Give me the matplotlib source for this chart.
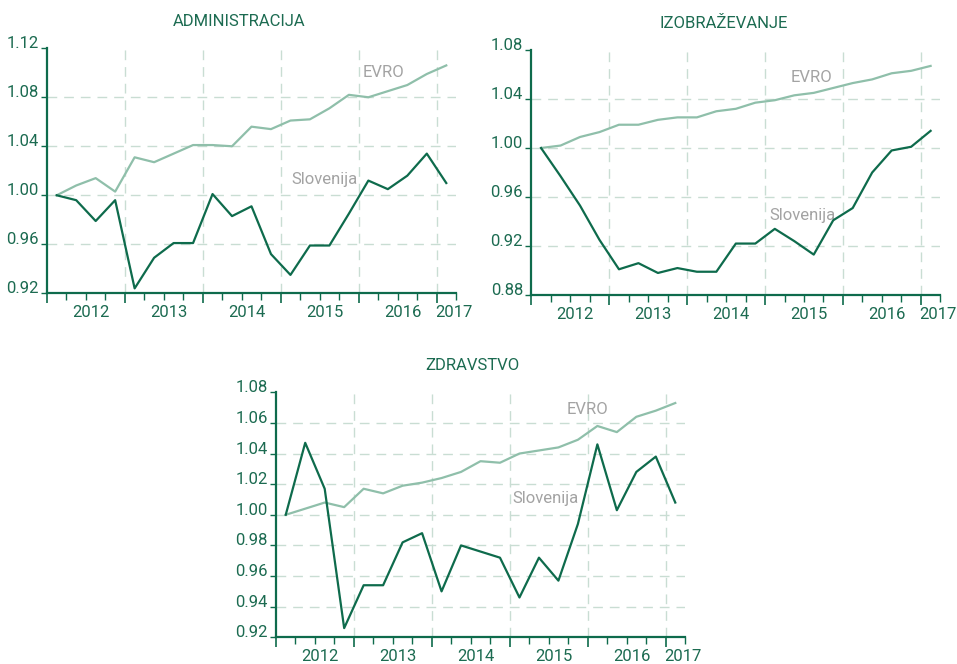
import matplotlib
matplotlib.use("Agg")
import matplotlib.pyplot as plt
import matplotlib.transforms as mtransforms
import numpy as np

plt.rcParams["font.family"] = ["Liberation Sans Narrow", "Roboto", "DejaVu Sans"]

# quarterly index, 2012Q1 .. 2017Q1
quarters = [f"{y}Q{q}" for y in range(2012, 2017) for q in range(1, 5)] + ["2017Q1"]
years = ["2012", "2013", "2014", "2015", "2016", "2017"]

adm_slo = [1.000, 0.996, 0.979, 0.996, 0.924, 0.949, 0.961, 0.961, 1.001, 0.983, 0.991,
           0.952, 0.935, 0.959, 0.959, 0.985, 1.012, 1.005, 1.016, 1.034, 1.010]
adm_evro = [1.000, 1.008, 1.014, 1.003, 1.031, 1.027, 1.034, 1.041, 1.041, 1.040, 1.056,
            1.054, 1.061, 1.062, 1.071, 1.082, 1.080, 1.085, 1.090, 1.099, 1.106]

izo_slo = [1.000, 0.977, 0.953, 0.925, 0.901, 0.906, 0.898, 0.902, 0.899, 0.899, 0.922,
           0.922, 0.934, 0.924, 0.913, 0.941, 0.951, 0.980, 0.998, 1.001, 1.014]
izo_evro = [1.000, 1.002, 1.009, 1.013, 1.019, 1.019, 1.023, 1.025, 1.025, 1.030, 1.032,
            1.037, 1.039, 1.043, 1.045, 1.049, 1.053, 1.056, 1.061, 1.063, 1.067]

zdr_slo = [1.000, 1.047, 1.017, 0.926, 0.954, 0.954, 0.982, 0.988, 0.950, 0.980, 0.976,
           0.972, 0.946, 0.972, 0.957, 0.994, 1.046, 1.003, 1.028, 1.038, 1.008]
zdr_evro = [1.000, 1.004, 1.008, 1.005, 1.017, 1.014, 1.019, 1.021, 1.024, 1.028, 1.035,
            1.034, 1.040, 1.042, 1.044, 1.049, 1.058, 1.054, 1.064, 1.068, 1.073]

DARK = "#0e6b4c"
LIGHT = "#8fbfaa"
GRID = "#c9ddd3"
GRAY = "#a3a3a3"
TXT = "#1c6b51"

panels = [
    dict(title="ADMINISTRACIJA", slo=adm_slo, evro=adm_evro,
         rect=[0.0491, 0.5583, 0.4274, 0.369], yticks=np.arange(0.92, 1.121, 0.04),
         evro_lbl=(16.8, 1.1005), slo_lbl=(13.75, 1.013), tx=0.47),
    dict(title="IZOBRAŽEVANJE", slo=izo_slo, evro=izo_evro,
         rect=[0.5552, 0.5557, 0.4274, 0.369], yticks=np.arange(0.88, 1.081, 0.04),
         evro_lbl=(13.9, 1.0577), slo_lbl=(13.4, 0.9453), tx=0.47),
    dict(title="ZDRAVSTVO", slo=zdr_slo, evro=zdr_evro,
         rect=[0.2884, 0.0402, 0.4274, 0.369], yticks=np.arange(0.92, 1.081, 0.02),
         evro_lbl=(15.5, 1.0685), slo_lbl=(13.35, 1.0108), tx=0.48),
]

fig = plt.figure(figsize=(9.57, 6.64), dpi=100)
x = np.arange(len(quarters))
year_pos = [1.75, 5.75, 9.75, 13.75, 17.75, 20.4]

for p in panels:
    ax = fig.add_axes(p["rect"])
    yt = p["yticks"]
    ax.set_xlim(-0.5, len(quarters) - 0.5)
    ax.set_ylim(yt[0], yt[-1])

    # dashed grid
    for v in yt[1:-1]:
        ax.axhline(v, color=GRID, lw=1.0, dashes=(7, 5), zorder=1)
    for b in np.arange(3.5, len(quarters) - 0.5, 4):
        ax.axvline(b, color=GRID, lw=1.0, dashes=(7, 5), zorder=1)

    ax.plot(x, p["evro"], color=LIGHT, lw=1.6, zorder=3)
    ax.plot(x, p["slo"], color=DARK, lw=1.6, zorder=4)

    ax.text(*p["evro_lbl"], "EVRO", color=GRAY, fontsize=12, ha="center", va="center")
    ax.text(*p["slo_lbl"], "Slovenija", color=GRAY, fontsize=12, ha="center", va="center")

    for s in ["top", "right"]:
        ax.spines[s].set_visible(False)
    for s in ["left", "bottom"]:
        ax.spines[s].set_color(DARK)
        ax.spines[s].set_linewidth(1.6)

    ax.set_yticks(yt)
    ax.set_yticklabels([f"{v:.2f}" for v in yt])
    ax.tick_params(axis="y", colors=DARK, labelcolor=TXT, labelsize=12, length=4,
                   width=1.0, pad=2)
    for lab in ax.get_yticklabels():
        lab.set_verticalalignment("baseline")

    ax.set_xticks(np.arange(-0.5, len(quarters), 4))
    ax.set_xticks(np.arange(-0.5, len(quarters), 1), minor=True)
    ax.set_xticklabels([])
    ax.tick_params(axis="x", which="major", direction="out", length=7, width=1.2,
                   color=DARK)
    ax.tick_params(axis="x", which="minor", direction="out", length=5, width=1.0,
                   color=DARK)

    trans = mtransforms.blended_transform_factory(ax.transData, ax.transAxes)
    for xp, yl in zip(year_pos, years):
        ax.text(xp, -0.08, yl, transform=trans, ha="center", va="center",
                color=TXT, fontsize=12)

    ax.text(p["tx"], 1.11, p["title"], transform=ax.transAxes, ha="center",
            va="center", color=TXT, fontsize=12)

fig.savefig("out.png", dpi=100)
